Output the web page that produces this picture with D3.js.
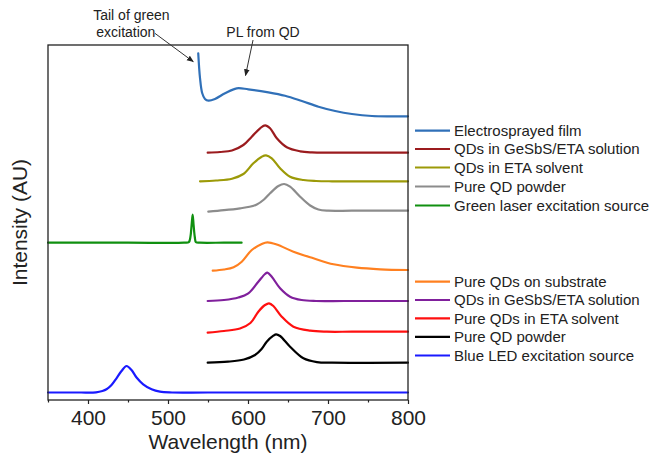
<!DOCTYPE html>
<html>
<head>
<meta charset="utf-8">
<script src="https://cdn.jsdelivr.net/npm/d3@7"></script>
<style>
  html, body { margin: 0; padding: 0; background: #fff; }
  svg { display: block; font-family: "Liberation Sans", Arial, sans-serif; }
</style>
</head>
<body>
<svg id="chart" width="655" height="459"></svg>
<script>
// ---------------- DATA ----------------
const xTicks = [400, 500, 600, 700, 800];
const xMinorTicks = [350, 450, 550, 650, 750];

const seriesNames = [
  "Electrosprayed film",
  "QDs in GeSbS/ETA solution",
  "QDs in ETA solvent",
  "Pure QD powder",
  "Green laser excitation source",
  "Pure QDs on substrate",
  "QDs in GeSbS/ETA solution",
  "Pure QDs in ETA solvent",
  "Pure QD powder",
  "Blue LED excitation source"
];
const seriesColors = ["#3070b8", "#9b1b1e", "#9c9a08", "#8c8c8c", "#109010",
                      "#ff8020", "#80209c", "#ff1010", "#000000", "#1a1aff"];

// wavelength (nm) / intensity (AU, stacked with offsets) for each spectrum
const filmWl  = [537.8, 540, 542.8, 546.2, 550.7, 558.7, 571.3, 585.9, 600.4, 625.5, 646.3, 667.3, 688.1, 709, 729.9, 755, 780, 800];
const filmInt = [346.7, 322, 306.7, 301, 299.3, 301, 306.7, 311.7, 310.7, 307.7, 304.3, 299, 293.3, 289, 286, 284, 283.7, 283.7];

const gesbsWl  = [549.6, 565, 580, 594.2, 604.7, 615.1, 621.4, 627.6, 636, 648.5, 665.2, 680, 700, 740, 800];
const gesbsInt = [247.3, 248, 249.5, 255, 263.3, 271.7, 274.7, 271.7, 261.7, 252.7, 248.7, 247.6, 247.3, 247.3, 247.3];

const etaWl  = [540, 560, 580, 594.2, 606.7, 617.2, 622.6, 629.7, 640.1, 652.6, 669.3, 685, 705, 740, 800];
const etaInt = [218.7, 219.5, 221.3, 226, 236.7, 243.3, 244.7, 241.7, 231.7, 223.3, 220, 219, 218.7, 218.7, 218.7];

const powderWl  = [550.4, 570, 590.1, 602, 611, 620, 627.6, 638, 645.2, 652.6, 665.2, 677.7, 688, 700, 730, 800];
const powderInt = [188.3, 189.8, 191.7, 193.2, 195.5, 200.5, 206.7, 214, 216, 213.3, 203.3, 194.5, 190.5, 189.3, 189.3, 189.3];

const greenWl  = [350, 450, 520, 526, 528, 529.5, 530.8, 532, 533.5, 535, 540, 570, 592];
const greenInt = [157.3, 157.3, 157.3, 157.8, 163, 175, 185.3, 175, 163, 157.8, 157.3, 157.3, 157.3];

const substrateWl  = [555.9, 570, 582, 592.2, 604.7, 617.2, 624.2, 636, 656.8, 681.8, 706.9, 736.1, 765.3, 800];
const substrateInt = [129.3, 130.5, 132.8, 138.3, 150, 156, 157.7, 155.5, 148.3, 141.7, 135.7, 132.3, 130.7, 130];

const gesbs2Wl  = [549.6, 570, 588, 600.4, 612.9, 621.3, 624.2, 629.7, 640.1, 652.6, 667, 685, 720, 800];
const gesbs2Int = [99, 100, 102.5, 106.7, 118.3, 126, 127.3, 123.3, 111.7, 103.3, 100, 99, 99, 99];

const eta2Wl  = [549.6, 570, 590, 603, 612.9, 621.3, 626.3, 631.7, 642.2, 656.8, 677.7, 698.6, 730, 800];
const eta2Int = [67.3, 69, 71.5, 77, 88.3, 95, 96.7, 94, 83.3, 73.3, 69.3, 68.3, 68.3, 68.3];

const powder2Wl  = [549.6, 575, 595, 608.8, 617, 623.4, 631.7, 635.1, 640.1, 652.6, 669.3, 686.1, 705, 800];
const powder2Int = [37.3, 38.3, 40.5, 45, 51, 58.3, 64.3, 65.7, 64, 53.3, 41.7, 37.9, 37.3, 37.3];

const ledWl  = [350, 390, 410, 418, 423.1, 429.4, 435.6, 441.9, 448.2, 454.4, 460.7, 469, 479.5, 489.9, 505, 550, 800];
const ledInt = [7.5, 7.5, 7.7, 9, 10.7, 15, 21.7, 29, 34, 30, 22.5, 15.7, 10.7, 8.3, 7.5, 7.5, 7.5];

const allWl  = [filmWl, gesbsWl, etaWl, powderWl, greenWl, substrateWl, gesbs2Wl, eta2Wl, powder2Wl, ledWl];
const allInt = [filmInt, gesbsInt, etaInt, powderInt, greenInt, substrateInt, gesbs2Int, eta2Int, powder2Int, ledInt];

// annotations (data coordinates)
const annotTexts = [["Tail of green", 454.2, 380], ["excitation", 447.3, 363], ["PL from QD", 618.8, 363]];
const arrows = [[483.6, 366.7, 531.6, 338.3], [606.3, 360, 596.9, 324.5]];

// ---------------- LAYOUT ----------------
const svg = d3.select("#chart");
const L = 48, R = 408, T = 45, B = 400;
const x = d3.scaleLinear().domain([350, 800]).range([L, R]);
const y = d3.scaleLinear().domain([0, 355]).range([B, T]);

// defs: arrow head
svg.append("defs").append("marker")
  .attr("id", "ah").attr("viewBox", "0 0 10 10").attr("refX", 9).attr("refY", 5)
  .attr("markerWidth", 7).attr("markerHeight", 7).attr("orient", "auto")
  .attr("markerUnits", "userSpaceOnUse")
  .append("path").attr("d", "M0,1 L10,5 L0,9 Z").attr("fill", "#222");

// curves
const line = d3.line().x(d => x(d[0])).y(d => y(d[1])).curve(d3.curveCatmullRom.alpha(0.5));
const gCurves = svg.append("g");
allWl.forEach((wl, i) => {
  const pts = wl.map((w, j) => [w, allInt[i][j]]);
  gCurves.append("path").datum(pts)
    .attr("d", line).attr("fill", "none")
    .attr("stroke", seriesColors[i]).attr("stroke-width", 2.2)
    .attr("stroke-linejoin", "round").attr("stroke-linecap", "round");
});

// frame
svg.append("rect").attr("x", L).attr("y", T).attr("width", R - L).attr("height", B - T)
  .attr("fill", "none").attr("stroke", "#222").attr("stroke-width", 1.3);

// x axis
const xAxis = svg.append("g").attr("transform", `translate(0,${B})`)
  .call(d3.axisBottom(x).tickValues(xTicks).tickSize(4).tickPadding(6).tickFormat(d3.format("d")));
xAxis.select(".domain").remove();
xAxis.selectAll("line").attr("stroke", "#222").attr("stroke-width", 1.2);
xAxis.selectAll("text").attr("font-size", 21).attr("fill", "#222")
  .attr("font-family", "'Liberation Sans', Arial, sans-serif").attr("dy", "0.72em");
const xMinor = svg.append("g").attr("transform", `translate(0,${B})`)
  .call(d3.axisBottom(x).tickValues(xMinorTicks).tickSize(2.5).tickFormat(""));
xMinor.select(".domain").remove();
xMinor.selectAll("line").attr("stroke", "#222").attr("stroke-width", 1.2);

// axis titles
svg.append("text").attr("x", (L + R) / 2).attr("y", 449).attr("text-anchor", "middle")
  .attr("font-size", 21).attr("fill", "#222").text("Wavelength (nm)");
svg.append("text").attr("transform", `translate(27,${(T + B) / 2}) rotate(-90)`)
  .attr("text-anchor", "middle").attr("font-size", 21).attr("fill", "#222").text("Intensity (AU)");

// annotations
annotTexts.forEach(a => {
  svg.append("text").attr("x", x(a[1])).attr("y", y(a[2])).attr("text-anchor", "middle")
    .attr("font-size", 14).attr("fill", "#222").text(a[0]);
});
arrows.forEach(a => {
  svg.append("line").attr("x1", x(a[0])).attr("y1", y(a[1])).attr("x2", x(a[2])).attr("y2", y(a[3]))
    .attr("stroke", "#333").attr("stroke-width", 1).attr("marker-end", "url(#ah)");
});

// legends
const legendRows = [130.7, 149, 167.5, 186.5, 205.5, 281.7, 300, 318.3, 336.8, 355.5];
seriesNames.forEach((name, i) => {
  const yy = legendRows[i];
  svg.append("line").attr("x1", 415).attr("x2", 450).attr("y1", yy).attr("y2", yy)
    .attr("stroke", seriesColors[i]).attr("stroke-width", 2.2);
  svg.append("text").attr("x", 454).attr("y", yy).attr("dy", "0.36em")
    .attr("font-size", 15).attr("fill", "#222").text(name);
});
</script>
</body>
</html>
